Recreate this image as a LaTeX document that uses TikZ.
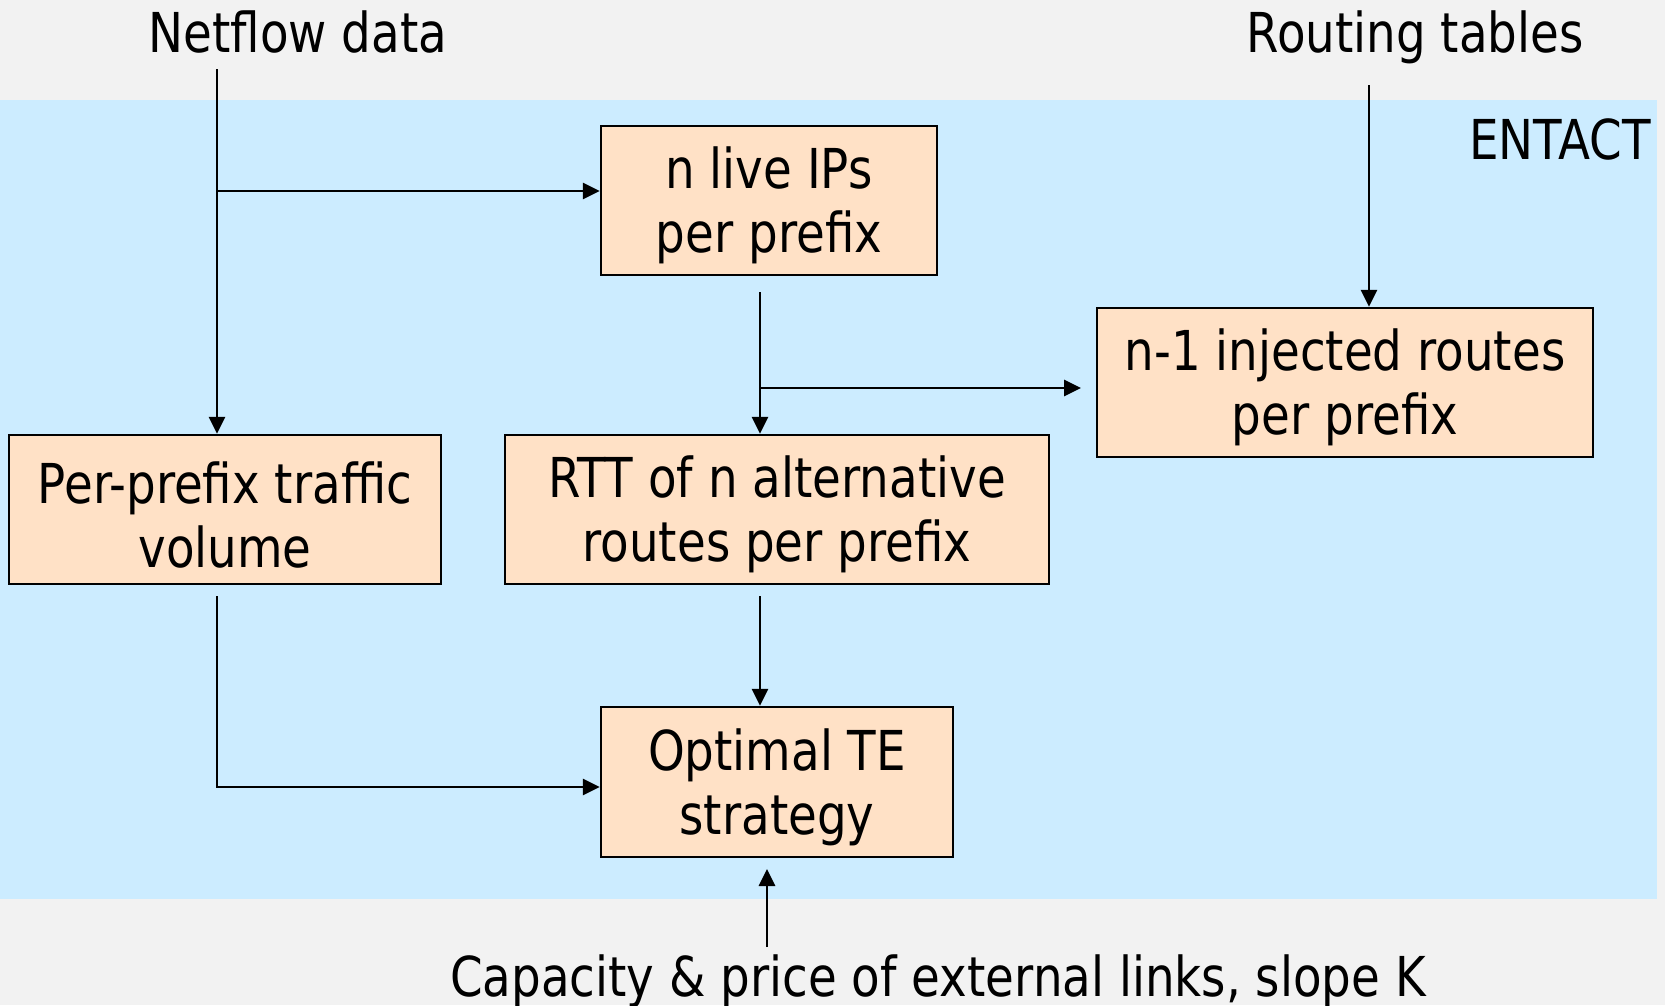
\documentclass[tikz,border=0pt]{standalone}
\usepackage{fontspec}
\setmainfont{DejaVu Sans}[FakeStretch=0.85]
\usetikzlibrary{arrows.meta}
\definecolor{pagegray}{HTML}{F2F2F2}
\definecolor{entactblue}{HTML}{CCECFF}
\definecolor{boxpeach}{HTML}{FFE1C6}
% extra height on a first line, to sit two-line texts a little lower in their boxes
\newcommand{\firstline}{\rule{0pt}{52pt}}
\tikzset{
  stagebox/.style={draw=black, line width=2.5pt, fill=boxpeach, align=center,
    inner sep=0pt, font=\fontsize{55}{64}\selectfont},
  plainlabel/.style={inner sep=0pt, font=\fontsize{55}{64}\selectfont},
  flow/.style={line width=2.8pt, -{Triangle[length=17pt,width=16pt]}}
}
\begin{document}
\begin{tikzpicture}[x=1pt,y=-1pt]
  \useasboundingbox (0,0) rectangle (1665,1005);
  \fill[pagegray] (0,0) rectangle (1665,1005);
  % ENTACT system region
  \fill[entactblue] (0,100) rectangle (1657,899);
  \node[plainlabel, anchor=base east] (entact) at (1651,159) {ENTACT};

  % inputs
  \node[plainlabel, anchor=base] (netflow) at (298,52) {Netflow data};
  \node[plainlabel, anchor=base] (routing) at (1415,52) {Routing tables};
  \node[plainlabel, anchor=base] (capacity) at (938,996) {Capacity \& price of external links, slope K};

  % processing stages
  \node[stagebox, minimum width=336pt, minimum height=149pt] (live) at (769,200.5) {\firstline n live IPs\\per prefix};
  \node[stagebox, minimum width=496pt, minimum height=149pt] (inject) at (1345,382.5) {\firstline n-1 injected routes\\per prefix};
  \node[stagebox, minimum width=432pt, minimum height=149pt] (volume) at (225,509.5) {\firstline Per-prefix traffic\\volume};
  \node[stagebox, minimum width=544pt, minimum height=149pt] (rtt) at (777,509.5) {\firstline RTT of n alternative\\routes per prefix};
  \node[stagebox, minimum width=352pt, minimum height=150pt] (optimal) at (777,782) {\firstline Optimal TE\\strategy};

  % connector end points
  \coordinate (nfTop) at (217,69);
  \coordinate (nfSplit) at (217,191);
  \coordinate (rtTop) at (1369,85);
  \coordinate (liveOut) at (760,292);
  \coordinate (liveSplit) at (760,388);
  \coordinate (injectIn) at (1081,388);
  \coordinate (volOut) at (217,596);
  \coordinate (volTurn) at (217,787);
  \coordinate (rttOut) at (760,596);
  \coordinate (capOut) at (767,947);
  \coordinate (capIn) at (767,869);

  % connectors
  \draw[flow] (nfTop) -- (nfTop |- volume.north);
  \draw[flow] (nfSplit) -- (nfSplit -| live.west);
  \draw[flow] (rtTop) -- (rtTop |- inject.north);
  \draw[flow] (liveOut) -- (liveOut |- rtt.north);
  \draw[flow] (liveSplit) -- (injectIn);
  \draw[flow] (volOut) -- (volTurn) -- (volTurn -| optimal.west);
  \draw[flow] (rttOut) -- (rttOut |- optimal.north);
  \draw[flow] (capOut) -- (capIn);
\end{tikzpicture}
\end{document}
